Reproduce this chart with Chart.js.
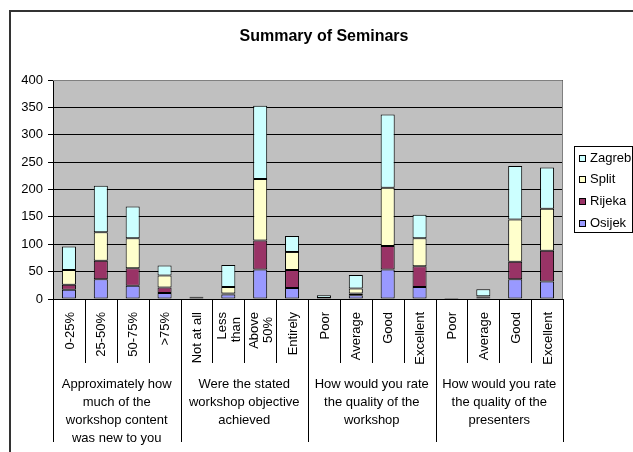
<!DOCTYPE html>
<html>
<head>
<meta charset="utf-8">
<script src="https://cdn.jsdelivr.net/npm/chart.js@4.4.0/dist/chart.umd.min.js"></script>
<style>
  html, body { margin: 0; padding: 0; background: #fff; }
  #wrap { width: 633px; height: 452px; position: relative; }
</style>
</head>
<body>
<div id="wrap"><canvas id="chart" width="633" height="452"></canvas></div>
<script>
// Summary of Seminars - stacked columns per answer, grouped by question

const categories = [
  '0-25%', '25-50%', '50-75%', '>75%',
  'Not at all', ['Less', 'than'], ['Above', '50%'], 'Entirely',
  'Poor', 'Average', 'Good', 'Excellent',
  'Poor', 'Average', 'Good', 'Excellent'
];

const groups = [
  ['Approximately how', 'much of the', 'workshop content', 'was new to you'],
  ['Were the stated', 'workshop objective', 'achieved'],
  ['How would you rate', 'the quality of the', 'workshop'],
  ['How would you rate', 'the quality of the', 'presenters']
];

const osijek = [17, 36, 24, 11, 1, 8, 54, 20, 2, 7, 54, 22, 1, 3, 36, 32];
const rijeka = [9, 34, 32, 10, 1, 2, 53, 33, 0, 3, 43, 38, 1, 1, 32, 56];
const split = [27, 52, 55, 22, 1, 12, 112, 33, 0, 9, 106, 51, 0, 1, 77, 77];
const zagreb = [43, 85, 58, 18, 1, 40, 134, 29, 5, 25, 134, 43, 0, 13, 98, 75];

const yTicks = [0, 50, 100, 150, 200, 250, 300, 350, 400];

const FONT = 'Liberation Sans, Arial, sans-serif';

// Draws the frame, title, plot background, category table and legend
const excelLook = {
  id: 'excelLook',
  beforeDraw(chart) {
    const { ctx, chartArea: a } = chart;
    ctx.save();
    ctx.fillStyle = '#C0C0C0';
    ctx.fillRect(a.left, a.top, a.right - a.left, a.bottom - a.top);
    ctx.restore();
  },
  afterDraw(chart) {
    const { ctx, chartArea: a } = chart;
    const x = chart.scales.x;
    const step = (a.right - a.left) / categories.length;

    ctx.save();

    // plot area border (gray top/right)
    ctx.strokeStyle = '#808080';
    ctx.lineWidth = 1;
    ctx.beginPath();
    ctx.moveTo(a.left, a.top + 0.5);
    ctx.lineTo(a.right - 0.5, a.top + 0.5);
    ctx.lineTo(a.right - 0.5, a.bottom);
    ctx.stroke();

    // category separators and group separators
    ctx.strokeStyle = '#000';
    ctx.beginPath();
    for (let i = 0; i <= categories.length; i++) {
      const px = Math.round(x.getPixelForValue(i) - step / 2) + 0.5;
      const bottom = (i % 4 === 0) ? 442 : 363;
      ctx.moveTo(px, a.bottom);
      ctx.lineTo(px, bottom);
    }
    ctx.stroke();

    // rotated category labels, lines centred on the tick
    ctx.fillStyle = '#000';
    ctx.font = '13px ' + FONT;
    ctx.textAlign = 'right';
    ctx.textBaseline = 'middle';
    categories.forEach((lab, i) => {
      const lines = Array.isArray(lab) ? lab : [lab];
      const px = x.getPixelForValue(i);
      lines.forEach((t, k) => {
        const off = (k - (lines.length - 1) / 2) * 14;
        ctx.save();
        ctx.translate(px + off + 1, 312 + k * 5);
        ctx.rotate(-Math.PI / 2);
        ctx.fillText(t, 0, 0);
        ctx.restore();
      });
    });

    // group labels
    ctx.textAlign = 'center';
    groups.forEach((lines, g) => {
      const cx = (x.getPixelForValue(g * 4) + x.getPixelForValue(g * 4 + 3)) / 2;
      lines.forEach((t, k) => ctx.fillText(t, cx, 384 + k * 18));
    });

    // title
    ctx.font = 'bold 16px ' + FONT;
    ctx.fillText('Summary of Seminars', 324, 37);

    // legend
    const names = ['Zagreb', 'Split', 'Rijeka', 'Osijek'];
    const cols = ['#CCFFFF', '#FFFFCC', '#993366', '#9999FF'];
    ctx.strokeStyle = '#000';
    ctx.lineWidth = 1;
    ctx.strokeRect(574.5, 146.5, 58, 86);
    ctx.font = '13px ' + FONT;
    ctx.textAlign = 'left';
    names.forEach((n, k) => {
      const cy = 158 + k * 21.7;
      ctx.fillStyle = cols[k];
      ctx.fillRect(579, Math.round(cy - 3.5), 7, 7);
      ctx.strokeRect(579.5, Math.round(cy - 3.5) + 0.5, 6, 6);
      ctx.fillStyle = '#000';
      ctx.fillText(n, 590, cy);
    });

    // chart frame
    ctx.strokeStyle = '#333';
    ctx.lineWidth = 2;
    ctx.beginPath();
    ctx.moveTo(10, 460);
    ctx.lineTo(10, 11);
    ctx.lineTo(640, 11);
    ctx.stroke();

    ctx.restore();
  }
};

function makeSet(label, data, color) {
  return {
    label,
    data,
    backgroundColor: color,
    borderColor: '#000',
    borderWidth: 1,
    borderSkipped: false,
    barPercentage: 0.44,
    categoryPercentage: 1
  };
}

new Chart(document.getElementById('chart'), {
  type: 'bar',
  data: {
    labels: categories,
    datasets: [
      makeSet('Osijek', osijek, '#9999FF'),
      makeSet('Rijeka', rijeka, '#993366'),
      makeSet('Split', split, '#FFFFCC'),
      makeSet('Zagreb', zagreb, '#CCFFFF')
    ]
  },
  options: {
    responsive: false,
    animation: false,
    layout: { padding: { top: 80, right: 70, bottom: 0, left: 0 } },
    plugins: {
      legend: { display: false },
      title: { display: false },
      tooltip: { enabled: false }
    },
    scales: {
      x: {
        stacked: true,
        afterFit(scale) { scale.height = 153; },
        grid: { display: false },
        border: { display: true, color: '#000', width: 1 },
        ticks: { display: false }
      },
      y: {
        stacked: true,
        min: 0,
        max: 400,
        afterFit(scale) { scale.width = 53; },
        afterBuildTicks(scale) { scale.ticks = yTicks.map(v => ({ value: v })); },
        grid: { color: '#000', lineWidth: 1, tickLength: 5, drawTicks: true },
        border: { display: true, color: '#000', width: 1 },
        ticks: {
          padding: 5,
          color: '#000',
          font: { family: FONT, size: 13 }
        }
      }
    }
  },
  plugins: [excelLook]
});
</script>
</body>
</html>
